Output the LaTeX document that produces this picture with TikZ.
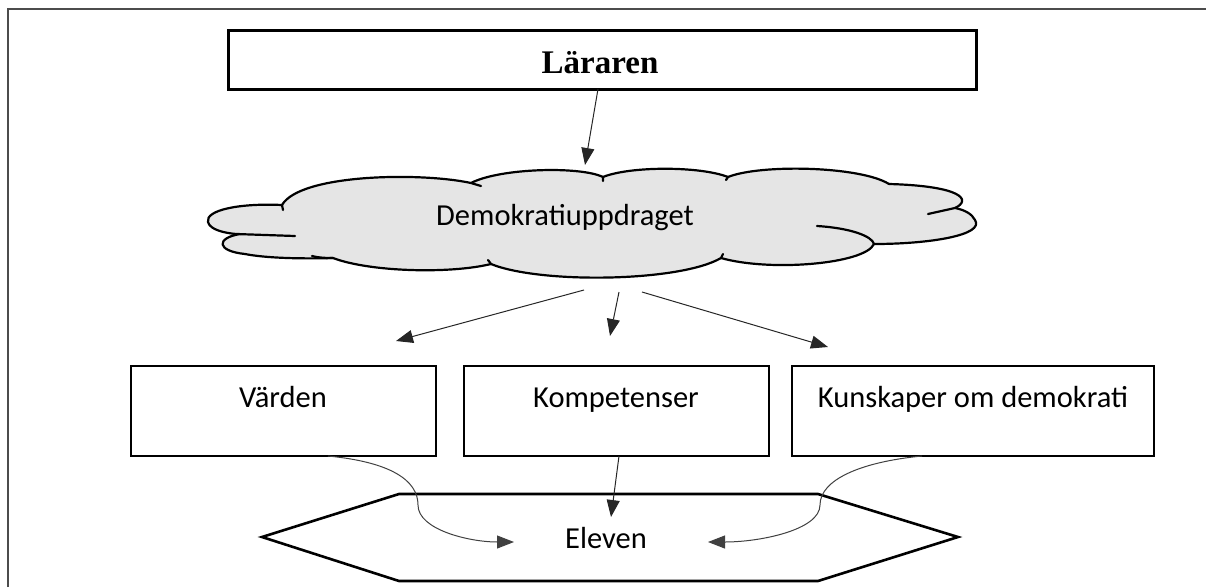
\documentclass[tikz,border=0pt]{standalone}
\usepackage{fontspec}
\setmainfont{Liberation Serif}
\newfontfamily\cf{Carlito}
\usetikzlibrary{arrows.meta}
\tikzset{
  box/.style={draw=black, line width=2.6pt, fill=white, inner sep=0pt},
  lbl/.style={anchor=base, inner sep=0pt, font=\cf\fontsize{30.5}{36}\selectfont},
  arr/.style={draw=black!85, line width=1pt, -{Triangle[length=17pt,width=13pt]}},
  curvearr/.style={draw=black!75, line width=1pt, -{Triangle[length=17pt,width=13pt]}},
  cloudline/.style={draw=black, line width=2.2pt, line cap=round, line join=round},
}
\begin{document}
\begin{tikzpicture}[x=1pt,y=-1pt]
\useasboundingbox (0,0) rectangle (1206,587);
% frame
\draw[black!70, line width=1.6pt] (8,587) -- (8,9) -- (1206,9);

% Läraren box
\node[box, line width=3pt, minimum width=748pt, minimum height=59pt] (lar) at (602,59.5) {};
\node[anchor=base, inner sep=0pt, font=\bfseries\fontsize{33}{40}\selectfont] (lartxt) at (600,73) {Läraren};

% cloud
\path[fill=black!10] (282,205)
 .. controls (240,203) and (205,210) .. (208,222)
 .. controls (210,230) and (225,233) .. (236,234)
 .. controls (216,238) and (216,251) .. (245,254)
 .. controls (265,258) and (300,259) .. (333,258)
 .. controls (370,272) and (450,274) .. (491,264)
 .. controls (540,284) and (680,282) .. (721,258)
 .. controls (770,272) and (865,264) .. (874,244)
 .. controls (930,244) and (985,235) .. (975,220)
 .. controls (972,214) and (965,210) .. (955,208)
 .. controls (972,200) and (962,186) .. (889,184)
 .. controls (860,166) and (760,164) .. (728,177)
 .. controls (700,166) and (630,166) .. (603,177)
 .. controls (580,166) and (500,168) .. (471,183)
 .. controls (420,172) and (300,174) .. (282,205) -- cycle;
% outline pieces
\draw[cloudline] (283,210) -- (282,205)
 .. controls (240,203) and (205,210) .. (208,222)
 .. controls (210,230) and (225,233) .. (236,234) -- (295,236);
\draw[cloudline] (240,234)
 .. controls (216,238) and (216,251) .. (245,254)
 .. controls (265,258) and (300,259) .. (333,258);
\draw[cloudline] (312,256) .. controls (320,258) and (326,258) .. (333,258)
 .. controls (370,272) and (450,274) .. (491,264);
\draw[cloudline] (488,260) .. controls (489,262) .. (491,264)
 .. controls (540,284) and (680,282) .. (721,258) -- (723,254);
\draw[cloudline] (721,258)
 .. controls (770,272) and (865,264) .. (874,244)
 .. controls (872,236) and (850,228) .. (817,226);
\draw[cloudline] (874,244)
 .. controls (930,244) and (985,235) .. (975,220)
 .. controls (972,214) and (965,210) .. (955,208) -- (928,214);
\draw[cloudline] (955,208)
 .. controls (972,200) and (962,186) .. (889,184);
\draw[cloudline] (889,184)
 .. controls (860,166) and (760,164) .. (728,177) -- (726,180);
\draw[cloudline] (728,177)
 .. controls (700,166) and (630,166) .. (603,177) -- (603,181);
\draw[cloudline] (603,177)
 .. controls (580,166) and (500,168) .. (471,183);
\draw[cloudline] (481,186) -- (471,183)
 .. controls (420,172) and (300,174) .. (282,205);
\node[lbl] (demo) at (565,225) {Demokratiuppdraget};

% three boxes
\node[box, minimum width=305pt, minimum height=90pt] (vard) at (283.5,411) {};
\node[box, minimum width=305pt, minimum height=90pt] (komp) at (616.5,411) {};
\node[box, minimum width=362pt, minimum height=90pt] (kuns) at (973,411) {};
\node[lbl] (vardtxt) at (283,407) {Värden};
\node[lbl] (komptxt) at (616,407) {Kompetenser};
\node[lbl] (kunstxt) at (973,407) {Kunskaper om demokrati};

% hexagon
\draw[black, line width=2.6pt, line join=miter, fill=white] (262,537) -- (399,494) -- (818,494) -- (958,537) -- (818,581) -- (399,581) -- cycle;
\node[lbl] (elev) at (606,548) {Eleven};

% connector endpoints
\coordinate (a0s) at (598,89);
\coordinate (a0e) at (585,165);
\coordinate (a1s) at (584,290);
\coordinate (a1e) at (396,341);
\coordinate (a2s) at (619,292);
\coordinate (a2e) at (610,336);
\coordinate (a3s) at (642,292);
\coordinate (a3e) at (828,347);
\coordinate (cL) at (328,456);
\coordinate (cLe) at (514,542);
\coordinate (cM) at (619,456);
\coordinate (cMe) at (611,517);
\coordinate (cR) at (922,456);
\coordinate (cRe) at (708,542);

\draw[arr] (a0s) -- (a0e);
\draw[arr] (a1s) -- (a1e);
\draw[arr] (a2s) -- (a2e);
\draw[arr] (a3s) -- (a3e);
\draw[curvearr] (cL) .. controls (390,462) and (418,480) .. (418,505) .. controls (418,530) and (470,542) .. (cLe);
\draw[arr] (cM) -- (cMe);
\draw[curvearr] (cR) .. controls (860,462) and (820,480) .. (820,505) .. controls (820,530) and (760,542) .. (cRe);
\end{tikzpicture}
\end{document}
